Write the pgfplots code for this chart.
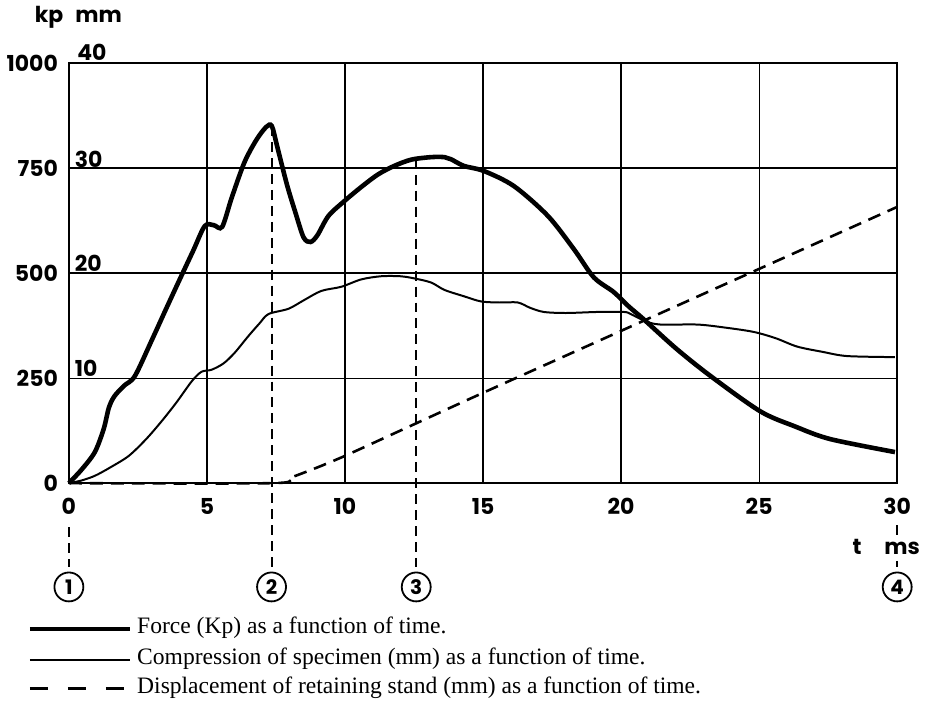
\documentclass[border=0pt]{standalone}
\usepackage{fontspec}
\setmainfont{Liberation Serif}
\newfontfamily\futura{Poppins}
\usepackage{pgfplots}
\pgfplotsset{compat=1.18}

\begin{document}
\begin{tikzpicture}
\begin{axis}[
    scale only axis,
    width=415pt,
    height=210.5pt,
    xmin=0, xmax=30,
    ymin=0, ymax=1000,
    xtick={0,5,...,30},
    ytick={0,250,500,750,1000},
    grid=major,
    grid style={black, line width=0.6pt},
    axis line style={line width=1pt},
    major tick length=0pt,
    tick label style={font=\futura\bfseries\fontsize{11}{13}\selectfont},
    /pgf/number format/assume math mode=true,
    /pgf/number format/1000 sep={},
    xticklabel style={yshift=-4pt},
    yticklabel style={xshift=-2pt},
    clip=false,
]
% force (kp)
\addplot[black, line width=2.3pt, smooth, tension=0.5] coordinates {
    (0,0) (0.47,33) (0.94,74) (1.26,129) (1.45,180) (1.65,207) (2.0,232)
    (2.39,255) (3.0,340) (3.5,412) (4.0,483) (4.5,553) (4.92,612) (5.25,614)
    (5.55,610) (5.9,680) (6.36,764) (6.8,818) (7.15,848) (7.35,850) (7.55,800)
    (7.9,710) (8.2,645) (8.5,585) (8.75,574) (9.0,590) (9.4,636) (9.97,671)
    (10.59,705) (11.2,735) (11.78,755) (12.4,770) (13.12,776) (13.6,776)
    (13.84,771) (14.31,755) (15.03,743) (16.12,707) (17.35,636) (18.29,557)
    (19.01,490) (19.73,455) (20.27,421) (20.82,390) (22,320) (23.24,255)
    (25.04,171) (26.3,135) (27.57,105) (29.92,74)
};
% compression of specimen (mm), drawn on the kp scale (1 mm = 25 kp)
\addplot[black, line width=1pt, smooth, tension=0.5, y filter/.expression={25*y}] coordinates {
    (0,0) (0.45,0.25) (0.94,0.7) (1.5,1.5) (2.17,2.6) (2.8,4.2) (3.36,5.9)
    (3.9,7.7) (4.45,9.7) (4.8,10.6) (5.17,10.8) (5.6,11.4) (6.0,12.4)
    (6.5,14.0) (6.9,15.2) (7.23,16.1) (7.95,16.6) (8.5,17.4) (9.14,18.3) (9.87,18.7)
    (10.59,19.4) (11.31,19.7) (12.0,19.7) (12.5,19.5) (13.12,19.1) (13.6,18.4)
    (14.3,17.8) (14.93,17.3) (15.6,17.2) (16.26,17.2) (16.7,16.7) (17.2,16.3)
    (18,16.2) (19.15,16.3) (20.1,16.3) (20.35,16.1) (20.9,15.4) (21.43,15.1)
    (22.77,15.1) (23.8,14.8) (24.8,14.4) (25.6,13.8) (26.38,13.0) (27.3,12.5)
    (28.19,12.1) (29.92,12.0)
};
% displacement of retaining stand (mm)
\addplot[black, line width=1.3pt, dash pattern=on 6.5pt off 4pt, smooth, tension=0.5, y filter/.expression={25*y}] coordinates {
    (0,0) (7.34,0) (8,0.5) (9,1.5) (10,2.6) (12,5.0) (15,8.6) (20,14.5)
    (25,20.4) (30,26.3)
};

% mm scale
\begin{scope}[every node/.style={font=\futura\bfseries\fontsize{11}{13}\selectfont, inner sep=0pt}]
\node[anchor=base west] at (axis cs:0.2,255) {10};
\node[anchor=base west] at (axis cs:0.2,503) {20};
\node[anchor=base west] at (axis cs:0.2,752) {30};
\node[anchor=base west] at (axis cs:0.29,1005) {40};
\node[anchor=base] at (axis cs:-0.72,1097) {kp};
\node[anchor=base] at (axis cs:1.08,1097) {mm};
\node[anchor=base] at (axis cs:28.55,-169) {t};
\node[anchor=base] at (axis cs:30.18,-169) {ms};
\end{scope}

% instants 1-4
\begin{scope}[line width=1pt, dash pattern=on 5pt off 3pt]
\draw (axis cs:7.34,850) -- (axis cs:7.34,-200);
\draw (axis cs:12.58,772) -- (axis cs:12.58,-200);
\draw (axis cs:0,-105) -- (axis cs:0,-200);
\draw (axis cs:30,-100) -- (axis cs:30,-125);
\draw (axis cs:30,-185) -- (axis cs:30,-200);
\end{scope}
\begin{scope}[every node/.style={circle, draw, line width=0.9pt, inner sep=0pt, minimum size=14.5pt, font=\futura\bfseries\fontsize{10}{11}\selectfont}]
\node at (axis cs:0,-247) {1};
\node at (axis cs:7.34,-247) {2};
\node at (axis cs:12.58,-247) {3};
\node at (axis cs:30,-247) {4};
\end{scope}

% key
\begin{scope}[every node/.style={anchor=mid west, font=\fontsize{11.8}{13}\selectfont, inner sep=0pt}]
\draw[line width=2.3pt] (axis cs:-1.41,-347) -- (axis cs:2.2,-347);
\node at (axis cs:2.46,-347) {Force (Kp) as a function of time.};
\draw[line width=1pt] (axis cs:-1.41,-420) -- (axis cs:2.2,-420);
\node at (axis cs:2.46,-420) {Compression of specimen (mm) as a function of time.};
\draw[line width=1.3pt, dash pattern=on 9pt off 10pt] (axis cs:-1.41,-489) -- (axis cs:2.2,-489);
\node at (axis cs:2.46,-489) {Displacement of retaining stand (mm) as a function of time.};
\end{scope}

% page frame in reference proportions
\path (axis cs:-2.42,-532) rectangle (axis cs:31.08,1150);
\end{axis}
\end{tikzpicture}
\end{document}
